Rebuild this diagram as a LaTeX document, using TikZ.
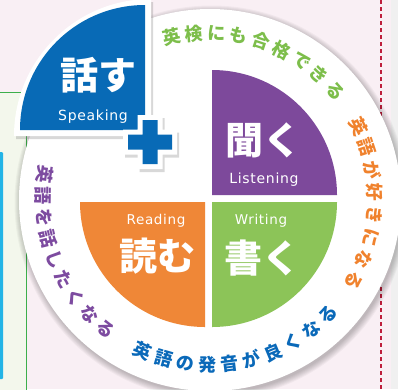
\documentclass[tikz,border=0pt]{standalone}
\usepackage{fontspec}
\usepackage{xcolor}
\usepackage{tikz}
\usetikzlibrary{calc,shadows}

\newfontfamily\jpfont{Noto Sans CJK JP}
\newfontfamily\enfont{DejaVu Sans}[LetterSpace=5]

\definecolor{bgpink}{RGB}{249,239,244}
\definecolor{boxgreen}{RGB}{243,247,236}
\definecolor{linegreen}{RGB}{60,175,75}
\definecolor{barcyan}{RGB}{35,180,230}
\definecolor{dotred}{RGB}{190,30,60}
\definecolor{qblue}{RGB}{8,106,182}
\definecolor{qpurple}{RGB}{125,73,155}
\definecolor{qgreen}{RGB}{140,196,88}
\definecolor{qorange}{RGB}{239,135,55}
\definecolor{tgreen}{RGB}{125,190,75}
\definecolor{torange}{RGB}{240,130,45}
\definecolor{tblue}{RGB}{10,105,185}
\definecolor{tpurple}{RGB}{125,75,160}

\begin{document}
\begin{tikzpicture}[x=1pt,y=1pt,
  bigjp/.style={font=\jpfont\bfseries\fontsize{38}{40}\selectfont, text=white, inner sep=0pt},
  sublabel/.style={font=\enfont\fontsize{14}{16}\selectfont, text=white, inner sep=0pt, anchor=base},
  ringtxt/.style={font=\jpfont\bfseries\fontsize{18}{20}\selectfont, inner sep=0pt},
  softshadow/.style={drop shadow={opacity=0.3, shadow xshift=2pt, shadow yshift=-3pt}}]
\useasboundingbox (0,0) rectangle (398,-389);
%
\fill[bgpink] (0,0) rectangle (398,-389);
\fill[gray!12] (391,0) rectangle (398,-389);
\draw[linegreen, fill=boxgreen] (-5,-92) rectangle (26,-395);
\fill[barcyan, rounded corners=1pt] (-2,-152) rectangle (3,-379);
\draw[dotred, line width=2.2pt, dash pattern=on 4pt off 3pt] (381,0) -- (381,-389);
%
\coordinate (o) at (210,-200);
\foreach \r in {0,1,...,6}
  \fill[black, opacity=0.035] ($(o)+(1.5,-2.5)$) circle (191+\r);
\fill[white] (o) circle (191);
%
\fill[qpurple] (212,-195) -- ++(125,0) arc[start angle=0, end angle=90, radius=125] -- cycle;
\fill[qgreen] (212,-202) -- ++(0,-125) arc[start angle=-90, end angle=0, radius=125] -- cycle;
\fill[qorange] (205,-202) -- ++(-125,0) arc[start angle=180, end angle=270, radius=125] -- cycle;
%
\fill[white, softshadow] (151,-136) -- ++(-137,0) arc[start angle=180, end angle=90, radius=137] -- cycle;
\fill[qblue] (145,-130) -- ++(-125,0) arc[start angle=180, end angle=90, radius=125] -- cycle;
%
\coordinate (plus) at (150,-142);
\fill[white, softshadow, shift={(plus)}] (-27,-12.5) -- (-12.5,-12.5) -- (-12.5,-27) -- (12.5,-27)
  -- (12.5,-12.5) -- (27,-12.5) -- (27,12.5) -- (12.5,12.5) -- (12.5,27) -- (-12.5,27)
  -- (-12.5,12.5) -- (-27,12.5) -- cycle;
\fill[qblue, shift={(plus)}] (-22,-7.5) -- (-7.5,-7.5) -- (-7.5,-22) -- (7.5,-22)
  -- (7.5,-7.5) -- (22,-7.5) -- (22,7.5) -- (7.5,7.5) -- (7.5,22) -- (-7.5,22)
  -- (-7.5,7.5) -- (-22,7.5) -- cycle;
%
\node[bigjp] (hanasu) at (98,-75) {話す};
\node[sublabel] (speaking) at (93,-120) {Speaking};
\node[bigjp] (kiku) at (263,-140) {聞く};
\node[sublabel] (listening) at (264,-183) {Listening};
\node[bigjp] (yomu) at (157,-256) {読む};
\node[sublabel, font=\enfont\fontsize{13.5}{15}\selectfont] (reading) at (156,-224) {Reading};
\node[bigjp] (kaku) at (262,-258) {書く};
\node[sublabel, font=\enfont\fontsize{13.5}{15}\selectfont] (writing) at (261,-224) {Writing};
%
\coordinate (ring) at (209,-199);
\foreach \c [count=\i, evaluate=\i as \a using 103-(\i-1)*7.8] in {英,検,に,も,合,格,で,き,る}
  \node[ringtxt, text=tgreen, rotate=\a-90] (eiken\i) at ($(ring)+(\a:166)$) {\c};
\foreach \c [count=\i, evaluate=\i as \a using 26-(\i-1)*7.9] in {英,語,が,好,き,に,な,る}
  \node[ringtxt, text=torange, rotate=\a-90] (suki\i) at ($(ring)+(\a:166)$) {\c};
\foreach \c [count=\i, evaluate=\i as \a using -113.6+(\i-1)*7.7] in {英,語,の,発,音,が,良,く,な,る}
  \node[ringtxt, text=tblue, rotate=\a+90] (hatsuon\i) at ($(ring)+(\a:166)$) {\c};
\foreach \c [count=\i, evaluate=\i as \a using 171.4+(\i-1)*7.5] in {英,語,を,話,し,た,く,な,る}
  \node[ringtxt, text=tpurple, rotate=\a+90] (hanashi\i) at ($(ring)+(\a:166)$) {\c};
\end{tikzpicture}
\end{document}
